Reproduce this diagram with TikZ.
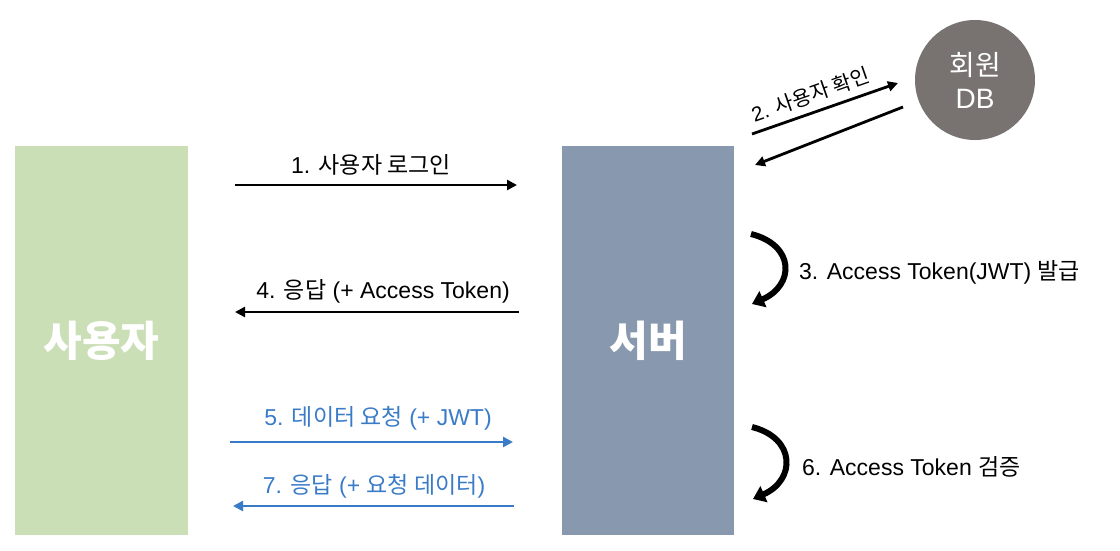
\documentclass[tikz,border=0pt]{standalone}
\usepackage{fontspec}
\setmainfont{Liberation Sans}
\newfontfamily\kr{Noto Sans CJK KR}
\usetikzlibrary{arrows.meta}
\definecolor{usergreen}{HTML}{CADFB6}
\definecolor{serverblue}{HTML}{8898AE}
\definecolor{dbgray}{HTML}{787371}
\definecolor{reqblue}{HTML}{3A7BC8}
\tikzset{
  actor/.style={draw=none,minimum width=173pt,minimum height=389pt,inner sep=0pt,text=white,font=\kr\fontsize{42}{46}\selectfont\bfseries},
  msg/.style={line width=2.8pt,-{Triangle[length=10pt,width=10pt]}},
  lbl/.style={font=\fontsize{23}{27}\selectfont,inner sep=1pt},
  loop/.style={line width=6pt,-{Triangle[length=12pt,width=17pt]}},
}
\begin{document}
\begin{tikzpicture}[x=1pt,y=-1pt]
\useasboundingbox (0,0) rectangle (1120,550);
\node[actor,fill=usergreen] (user) at (101.5,340.5) {사용자};
\node[actor,fill=serverblue,minimum width=172pt] (server) at (648,340.5) {서버};
\node[circle,fill=dbgray,minimum size=120pt,inner sep=0pt,text=white,align=center,font=\fontsize{28}{33}\selectfont] (db) at (975,80) {{\kr 회원}\\DB};

% 1
\coordinate (a1s) at (235,185); \coordinate (a1e) at (517,185);
\draw[msg] (a1s) -- (a1e);
\node[lbl] (l1) at (371,165) {1. {\kr 사용자 로그인}};
% 4
\coordinate (a4s) at (519,312); \coordinate (a4e) at (235,312);
\draw[msg] (a4s) -- (a4e);
\node[lbl] (l4) at (383,291) {4. {\kr 응답} (+ Access Token)};
% 5
\coordinate (a5s) at (230,442); \coordinate (a5e) at (513,442);
\draw[msg,draw=reqblue,color=reqblue] (a5s) -- (a5e);
\node[lbl,text=reqblue] (l5) at (378,418) {5. {\kr 데이터 요청} (+ JWT)};
% 7
\coordinate (a7s) at (514,506); \coordinate (a7e) at (233,506);
\draw[msg,draw=reqblue,color=reqblue] (a7s) -- (a7e);
\node[lbl,text=reqblue] (l7) at (374,486) {7. {\kr 응답} (+ {\kr 요청 데이터})};

% 2
\coordinate (a2s) at (752,134); \coordinate (a2e) at (898,83);
\draw[msg] (a2s) -- (a2e) node[pos=0.44,above=6pt,sloped,lbl,font=\fontsize{20.5}{24}\selectfont] (l2) {2. {\kr 사용자 확인}};
\coordinate (a2bs) at (903,107); \coordinate (a2be) at (755,165);
\draw[msg] (a2bs) -- (a2be);

% 3
\coordinate (c3s) at (751,234); \coordinate (c3e) at (752,304);
\draw[loop] (c3s) .. controls (795,245) and (795,285) .. (c3e);
\node[lbl,anchor=west] (l3) at (798,272) {3. Access Token(JWT) {\kr 발급}};
% 6
\coordinate (c6s) at (752,427); \coordinate (c6e) at (753,499);
\draw[loop] (c6s) .. controls (796,438) and (796,480) .. (c6e);
\node[lbl,anchor=west] (l6) at (801,467) {6. Access Token {\kr 검증}};
\end{tikzpicture}
\end{document}
